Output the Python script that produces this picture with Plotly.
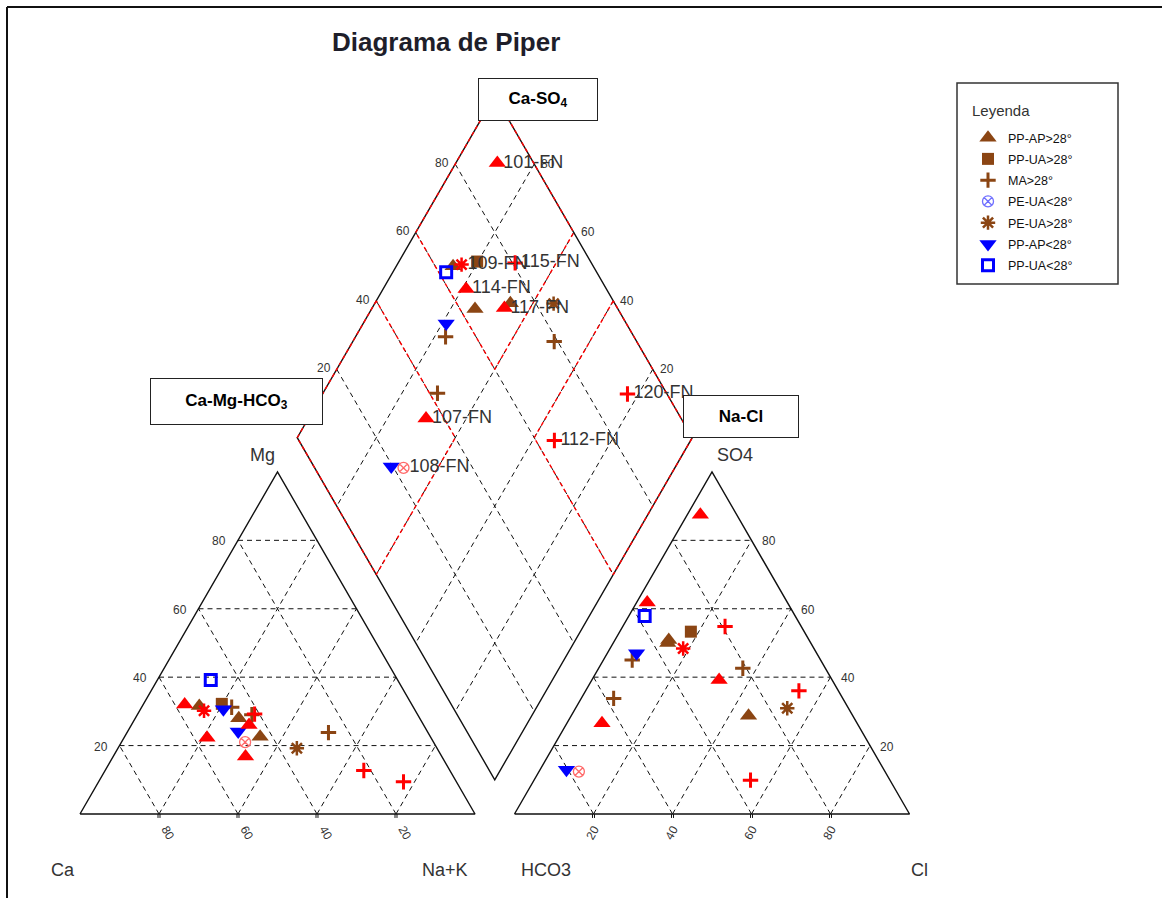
import numpy as np
import plotly.graph_objects as go

# ---------------------------------------------------------------- data
# Major-ion composition (% of meq/L) of each sample.
labels = ["101-FN", "109-FN", "115-FN", "114-FN", "117-FN", "107-FN", "108-FN", "120-FN", "112-FN",
          "", "", "", "", "", "", "", "", "", "", ""]
groups = ["PP-AP>28°", "PE-UA>28°", "MA>28°", "PP-AP>28°", "PP-AP>28°", "PP-AP>28°", "PE-UA<28°",
          "MA>28°", "MA>28°",
          "PP-AP>28°", "PP-AP>28°", "PP-AP>28°", "PP-UA>28°", "MA>28°", "MA>28°", "MA>28°",
          "PE-UA>28°", "PP-AP<28°", "PP-AP<28°", "PP-UA<28°"]
# cations
ca_pct = [57.5, 53.5, 41.2, 56.7, 49.7, 44.2, 47.7, 13.4, 21.8,
          54.0, 45.8, 43.1, 48.0, 46.0, 25.2, 42.0, 35.5, 48.4, 47.9, 47.3]
mg_pct = [32.0, 30.2, 29.2, 22.3, 16.8, 26.0, 21.0, 9.4, 12.7,
          31.6, 28.0, 22.6, 32.2, 31.2, 23.8, 29.0, 19.2, 30.6, 24.1, 39.2]
nak_pct = [10.5, 16.3, 29.6, 21.0, 33.5, 29.8, 31.3, 77.2, 65.5,
           14.4, 26.2, 34.3, 19.8, 22.8, 51.0, 29.0, 45.3, 21.0, 28.0, 13.5]
# anions
hco3_pct = [9.2, 33.1, 19.3, 35.5, 28.6, 64.6, 77.5, 10.0, 35.3,
            35.5, 36.2, 26.4, 28.7, 47.7, 20.9, 58.0, 15.5, 45.6, 80.4, 38.1]
so4_pct = [87.5, 48.4, 54.8, 61.8, 39.2, 26.5, 12.4, 36.0, 9.9,
           50.9, 50.0, 28.7, 53.3, 45.0, 42.6, 33.8, 30.9, 47.0, 12.9, 57.9]
cl_pct = [3.3, 18.5, 25.9, 2.7, 32.2, 8.9, 10.1, 54.0, 54.8,
          13.6, 13.8, 44.9, 18.0, 7.3, 36.5, 8.2, 53.6, 7.4, 6.7, 4.0]

legend_order = ["PP-AP>28°", "PP-UA>28°", "MA>28°", "PE-UA<28°", "PE-UA>28°", "PP-AP<28°", "PP-UA<28°"]
tick_values = [20, 40, 60, 80]

# ---------------------------------------------------------------- styles
BROWN = "#8B4513"
BLUE = "#0000FF"
RED = "#FF0000"
group_style = {
    "PP-AP>28°": dict(symbol="triangle-up", size=15, color=BROWN, lw=0),
    "PP-UA>28°": dict(symbol="square", size=12, color=BROWN, lw=0),
    "MA>28°": dict(symbol="cross-thin", size=11, color=BROWN, lw=3),
    "PE-UA<28°": dict(symbol="circle-x-open", size=11, color="#7070FF", lw=1.3),
    "PE-UA>28°": dict(symbol="asterisk", size=12, color=BROWN, lw=2.5),
    "PP-AP<28°": dict(symbol="triangle-down", size=15, color=BLUE, lw=0),
    "PP-UA<28°": dict(symbol="square-open", size=11, color=BLUE, lw=3),
}
fn_colors = {"PE-UA<28°": "#FF6A6A"}

W, H = 1162, 898
S = 3.95            # pixels per percentage unit
X0, Y0 = 80, 814    # pixel position of the Ca corner
GAP = 10            # space between the two triangles (units)
OFF = 100 + GAP     # x offset of the anion triangle
R3 = np.sqrt(3.0)
H60 = R3 / 2
FONT = "Arial, Liberation Sans"


# ---------------------------------------------------------------- projections
def cation_xy(mg, na):
    return na + mg / 2.0, mg * H60


def anion_xy(so4, cl):
    return OFF + cl + so4 / 2.0, so4 * H60


def diamond_xy(na, hco3):
    s = OFF + 100 - hco3
    return (na + s) / 2.0, R3 * (s - na) / 2.0


def px_to_paper(px, py):
    return px / W, 1 - py / H


fig = go.Figure()


def add_lines(segs, color, width, dash):
    xs, ys = [], []
    for seg in segs:
        for p in seg:
            xs.append(p[0])
            ys.append(p[1])
        xs.append(None)
        ys.append(None)
    fig.add_trace(go.Scatter(x=xs, y=ys, mode="lines", hoverinfo="skip", showlegend=False,
                             line=dict(color=color, width=width, dash=dash)))


# ---------------------------------------------------------------- grids
grid = []
for k in tick_values:
    # cation triangle
    grid.append([cation_xy(k, 0), cation_xy(k, 100 - k)])
    grid.append([cation_xy(0, 100 - k), cation_xy(100 - k, 0)])
    grid.append([cation_xy(0, k), cation_xy(100 - k, k)])
    # anion triangle
    grid.append([anion_xy(k, 0), anion_xy(k, 100 - k)])
    grid.append([anion_xy(0, 100 - k), anion_xy(100 - k, 0)])
    grid.append([anion_xy(0, k), anion_xy(100 - k, k)])
    # diamond
    grid.append([diamond_xy(k, 0), diamond_xy(k, 100)])
    grid.append([diamond_xy(0, k), diamond_xy(100, k)])
add_lines(grid, "#111111", 1, "5px,4px")

# outlines
outline = [
    [cation_xy(0, 0), cation_xy(0, 100), cation_xy(100, 0), cation_xy(0, 0)],
    [anion_xy(0, 0), anion_xy(0, 100), anion_xy(100, 0), anion_xy(0, 0)],
    [diamond_xy(0, 0), diamond_xy(0, 100), diamond_xy(100, 100), diamond_xy(100, 0), diamond_xy(0, 0)],
]
ticks = []
for k in tick_values:
    for x in (k, OFF + k):
        ticks.append([(x - 0.25, 0), (x - 0.25, -1.0)])
        ticks.append([(x + 0.25, 0), (x + 0.25, -1.0)])
add_lines(outline, "#111111", 1.4, "solid")
add_lines(ticks, "#111111", 1, "solid")

# hydrochemical facies regions in the diamond
regions = [
    [(0, 0), (0, 40), (40, 40), (40, 0), (0, 0)],          # Ca-SO4
    [(0, 60), (0, 100), (40, 100), (40, 60), (0, 60)],     # Ca-Mg-HCO3
    [(60, 0), (60, 40), (100, 40), (100, 0), (60, 0)],     # Na-Cl
]
add_lines([[diamond_xy(n, h) for n, h in r] for r in regions], RED, 1.4, "4px,3px")

# ---------------------------------------------------------------- samples
labels_a = np.array(labels)
groups_a = np.array(groups)
mg_a, na_a = np.array(mg_pct), np.array(nak_pct)
so4_a, cl_a, hco3_a = np.array(so4_pct), np.array(cl_pct), np.array(hco3_pct)
cx, cy = cation_xy(mg_a, na_a)
ax, ay = anion_xy(so4_a, cl_a)
dx, dy = diamond_xy(na_a, hco3_a)


def sample_points(mask):
    xs = np.concatenate([cx[mask], ax[mask], dx[mask]])
    ys = np.concatenate([cy[mask], ay[mask], dy[mask]])
    return xs, ys


draw_order = ["PP-AP>28°", "PP-UA>28°", "MA>28°", "PE-UA>28°", "PE-UA<28°", "PP-AP<28°", "PP-UA<28°"]
for g in draw_order:
    st = group_style[g]
    mask = (groups_a == g) & (labels_a == "")
    xs, ys = sample_points(mask)
    if len(xs) == 0:
        xs, ys = [None], [None]
    name = g.replace("<", "&lt;").replace(">", "&gt;")
    fig.add_trace(go.Scatter(
        x=xs, y=ys, mode="markers", name=name, legendgroup=g,
        legendrank=legend_order.index(g) + 1,
        marker=dict(symbol=st["symbol"], size=st["size"], color=st["color"],
                    line=dict(width=st["lw"], color=st["color"])),
    ))

for g in draw_order:
    st = group_style[g]
    mask = (groups_a == g) & (labels_a != "")
    if not mask.any():
        continue
    xs, ys = sample_points(mask)
    col = fn_colors.get(g, RED)
    fig.add_trace(go.Scatter(
        x=xs, y=ys, mode="markers", showlegend=False, legendgroup=g,
        marker=dict(symbol=st["symbol"], size=st["size"], color=col,
                    line=dict(width=st["lw"], color=col)),
    ))

# sample names beside their diamond points
lab_mask = labels_a != ""
fig.add_trace(go.Scatter(
    x=dx[lab_mask], y=dy[lab_mask], text=labels_a[lab_mask], mode="markers+text",
    marker=dict(size=8, color="rgba(0,0,0,0)"),
    textposition="middle right", showlegend=False, hoverinfo="skip",
    textfont=dict(family=FONT, size=18, color="#333333"),
))

# ---------------------------------------------------------------- text
ann = []
TICKFONT = dict(family=FONT, size=12, color="#333333")


def note(x, y, text, dxp=0, dyp=0, angle=0, font=TICKFONT):
    ann.append(dict(x=x, y=y, xref="x", yref="y", text=text, showarrow=False,
                    xshift=dxp, yshift=-dyp, textangle=angle, font=font,
                    xanchor="center", yanchor="middle"))


for k in tick_values:
    note(*cation_xy(0, 100 - k), str(k), 9, 19, 60)        # Ca along the base
    note(*cation_xy(k, 0), str(k), -19, 1)                 # Mg along the left side
    note(*anion_xy(0, k), str(k), -1, 19, -60)             # Cl along the base
    note(*anion_xy(k, 100 - k), str(k), 17, 1)             # SO4 along the right side
    note(*diamond_xy(0, 100 - k), str(k), -13, -1)         # SO4+Cl
    note(*diamond_xy(100 - k, 0), str(k), 14, 0)           # Ca+Mg

AXFONT = dict(family=FONT, size=18, color="#333333")
note(*cation_xy(0, 0), "Ca", -17, 56, font=AXFONT)
note(*cation_xy(0, 100), "Na+K", -30, 56, font=AXFONT)
note(*cation_xy(100, 0), "Mg", -15, -17, font=AXFONT)
note(*anion_xy(0, 0), "HCO3", 31, 56, font=AXFONT)
note(*anion_xy(0, 100), "Cl", 10, 56, font=AXFONT)
note(*anion_xy(100, 0), "SO4", 23, -17, font=AXFONT)

# title
tx, ty = px_to_paper(446, 42)
ann.append(dict(x=tx, y=ty, xref="paper", yref="paper", showarrow=False,
                text="<b>Diagrama de Piper</b>", xanchor="center", yanchor="middle",
                font=dict(family=FONT, size=26, color="#1e1e2a")))

# legend heading
lx, ly = px_to_paper(970, 110)
ann.append(dict(x=lx, y=ly, xref="paper", yref="paper", showarrow=False, text="Leyenda",
                xanchor="left", yanchor="middle",
                font=dict(family=FONT, size=15, color="#333333")))

# facies boxes
BOXFONT = dict(family=FONT, size=17, color="#000000")
for (x1, y1, x2, y2), text in [((478, 78, 598, 121), "<b>Ca-SO<sub>4</sub></b>"),
                                ((150, 378, 323, 425), "<b>Ca-Mg-HCO<sub>3</sub></b>"),
                                ((683, 395, 799, 438), "<b>Na-Cl</b>")]:
    bx, by = px_to_paper((x1 + x2) / 2, (y1 + y2) / 2)
    ann.append(dict(x=bx, y=by, xref="paper", yref="paper", showarrow=False, text=text,
                    xanchor="center", yanchor="middle", width=x2 - x1 - 2, height=y2 - y1 - 2,
                    bgcolor="white", bordercolor="#222222", borderwidth=1, borderpad=0,
                    font=BOXFONT))

# ---------------------------------------------------------------- layout
shapes = [
    dict(type="rect", xref="paper", yref="paper",
         x0=957 / W, x1=1118 / W, y0=1 - 284 / H, y1=1 - 83 / H,
         line=dict(color="#333333", width=1.5)),
    dict(type="line", xref="paper", yref="paper", x0=7 / W, x1=1.01, y0=1 - 7 / H, y1=1 - 7 / H,
         line=dict(color="#111111", width=2)),
    dict(type="line", xref="paper", yref="paper", x0=7 / W, x1=7 / W, y0=1 - 7 / H, y1=-0.01,
         line=dict(color="#111111", width=2)),
]

fig.update_layout(
    width=W, height=H, autosize=False,
    margin=dict(l=0, r=0, t=0, b=0),
    paper_bgcolor="white", plot_bgcolor="white",
    xaxis=dict(range=[-X0 / S, (W - X0) / S], visible=False, fixedrange=True),
    yaxis=dict(range=[(Y0 - H) / S, Y0 / S], visible=False, fixedrange=True),
    annotations=ann, shapes=shapes,
    showlegend=True,
    legend=dict(x=968 / W, y=1 - 123 / H, xanchor="left", yanchor="top",
                bgcolor="rgba(0,0,0,0)", borderwidth=0, tracegroupgap=2,
                font=dict(family=FONT, size=12.5, color="#111111")),
)

fig.write_html("out.html")
